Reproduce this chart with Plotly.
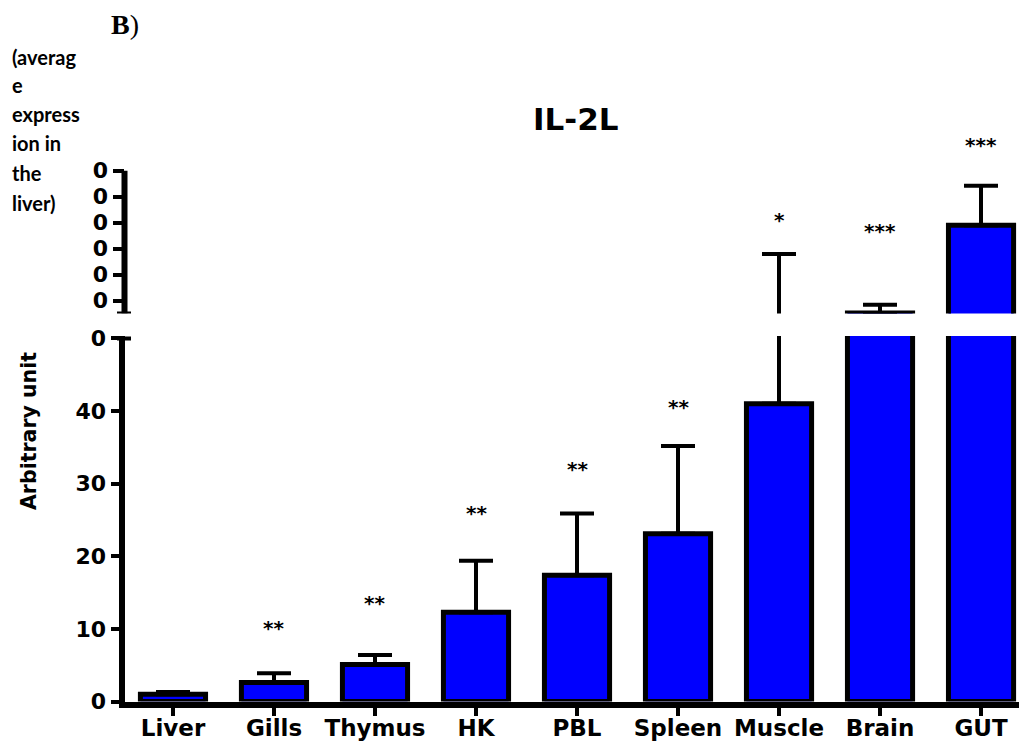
import plotly.graph_objects as go

# Tissue expression of IL-2L (mean + SD), relative to liver
tissues = ["Liver", "Gills", "Thymus", "HK", "PBL", "Spleen", "Muscle", "Brain", "GUT"]
means = [1.0, 2.6, 5.1, 12.3, 17.4, 23.1, 41.0, 52.0, 390.0]
sd = [0.3, 1.3, 1.3, 7.1, 8.5, 12.1, 238.0, 32.0, 152.0]
stars = ["", "**", "**", "**", "**", "**", "*", "***", "***"]
# vertical placement of significance marks, per segment
star_y_low = [None, 10.1, 13.5, 25.9, 32.0, 40.6, None, None, None]
star_y_high = [None, None, None, None, None, None, 410, 368, 700]

# broken y axis: lower segment 0-50, upper segment 50-600
BREAK = 50
low_ticks = [0, 10, 20, 30, 40, 50]
low_ticktext = ["0", "10", "20", "30", "40", "0"]
high_ticks = [100, 200, 300, 400, 500, 600]
high_ticktext = ["0", "0", "0", "0", "0", "0"]

W, H = 1019, 745
px = lambda v: v / W
py = lambda v: 1 - v / H

BLUE = "#0000FF"
TICKFONT = dict(family="DejaVu Sans", size=22, color="black", weight="bold")
STARFONT = dict(family="DejaVu Sans", size=20, color="black", weight="bold")

fig = go.Figure()

# lower segment: every tissue
fig.add_bar(x=tissues, y=means, xaxis="x", yaxis="y", width=0.645,
            marker=dict(color=BLUE, line=dict(color="black", width=5)),
            error_y=dict(type="data", symmetric=False, array=sd, arrayminus=[0] * len(sd),
                         color="black", thickness=4, width=17),
            hoverinfo="skip")

# upper segment: only tissues whose bar or error bar reaches past the break
reach = [m + s > BREAK for m, s in zip(means, sd)]
hi_means = [m if r else None for m, r in zip(means, reach)]
hi_sd = [s if r else 0 for s, r in zip(sd, reach)]
# bars ending below the break: run the lower whisker end down to zero so
# its cap stays out of the upper segment
hi_minus = [m if (r and m < BREAK) else 0 for m, r in zip(means, reach)]
hi_line = [5 if m > BREAK else 0 for m in means]
fig.add_bar(x=tissues, y=hi_means, xaxis="x", yaxis="y2", width=0.645,
            marker=dict(color=BLUE, line=dict(color="black", width=hi_line)),
            error_y=dict(type="data", symmetric=False, array=hi_sd, arrayminus=hi_minus,
                         color="black", thickness=4, width=17),
            hoverinfo="skip")

x_left = 124.5
fig.update_layout(
    width=W, height=H, autosize=False,
    margin=dict(l=0, r=0, t=0, b=0, pad=0),
    paper_bgcolor="white", plot_bgcolor="white",
    showlegend=False,
    xaxis=dict(type="category", domain=[px(x_left), 1], range=[-0.48, 8.376],
               anchor="y", automargin=False, showline=True, linewidth=6, linecolor="black",
               ticks="outside", ticklen=8, tickwidth=4, tickcolor="black",
               ticklabelstandoff=-7,
               tickfont=dict(family="DejaVu Sans", size=23, color="black", weight="bold"),
               showgrid=False, zeroline=False),
    yaxis=dict(domain=[py(701.5), py(336)], range=[0, 50.34], anchor="x",
               automargin=False, tickvals=low_ticks, ticktext=low_ticktext,
               showline=True, linewidth=6, linecolor="black",
               ticks="outside", ticklen=8, tickwidth=4, tickcolor="black",
               tickfont=TICKFONT, showgrid=False, zeroline=False),
    yaxis2=dict(domain=[py(313.5), py(100)], range=[BREAK, 872.4], anchor="x",
                automargin=False, tickvals=high_ticks, ticktext=high_ticktext,
                showline=False,
                ticks="outside", ticklen=11, tickwidth=4, tickcolor="black",
                tickfont=TICKFONT, showgrid=False, zeroline=False),
)

shapes = [
    # upper segment axis line and break caps
    dict(type="line", xref="paper", yref="y2", x0=px(x_left), x1=px(x_left),
         y0=BREAK, y1=600, line=dict(color="black", width=6)),
    dict(type="line", xref="paper", yref="y2", x0=px(117), x1=px(131),
         y0=BREAK, y1=BREAK, line=dict(color="black", width=4)),
    dict(type="line", xref="paper", yref="y", x0=px(117), x1=px(131),
         y0=BREAK, y1=BREAK, line=dict(color="black", width=4)),
]
fig.update_layout(shapes=shapes)

annotations = []
for t, s, yl, yh in zip(tissues, stars, star_y_low, star_y_high):
    if not s:
        continue
    if yl is not None:
        annotations.append(dict(x=t, y=yl, xref="x", yref="y", text=s, showarrow=False,
                                yanchor="middle", font=STARFONT))
    else:
        annotations.append(dict(x=t, y=yh, xref="x", yref="y2", text=s, showarrow=False,
                                yanchor="middle", font=STARFONT))

annotations.append(dict(x=px(575), y=py(119), xref="paper", yref="paper", text="IL-2L",
                        showarrow=False, xanchor="center", yanchor="middle",
                        font=dict(family="DejaVu Sans", size=31, color="black", weight="bold")))
annotations.append(dict(x=px(29), y=py(431), xref="paper", yref="paper", text="Arbitrary unit",
                        showarrow=False, textangle=-90, xanchor="center", yanchor="middle",
                        font=dict(family="DejaVu Sans", size=20.5, color="black", weight="bold")))
annotations.append(dict(x=px(125), y=py(25), xref="paper", yref="paper", text="<b>B</b>)",
                        showarrow=False, xanchor="center", yanchor="middle",
                        font=dict(family="Liberation Serif", size=28, color="black")))

side_lines = ["(averag", "e", "express", "ion in", "the", "liver)"]
side_y = [57, 85, 114, 143, 173, 203]
for line, yy in zip(side_lines, side_y):
    annotations.append(dict(x=px(10), y=py(yy), xref="paper", yref="paper", text=line,
                            showarrow=False, xanchor="left", yanchor="middle",
                            font=dict(family="Lato", size=20, color="black", weight="bold")))

fig.update_layout(annotations=annotations)

fig.write_html("out.html")
